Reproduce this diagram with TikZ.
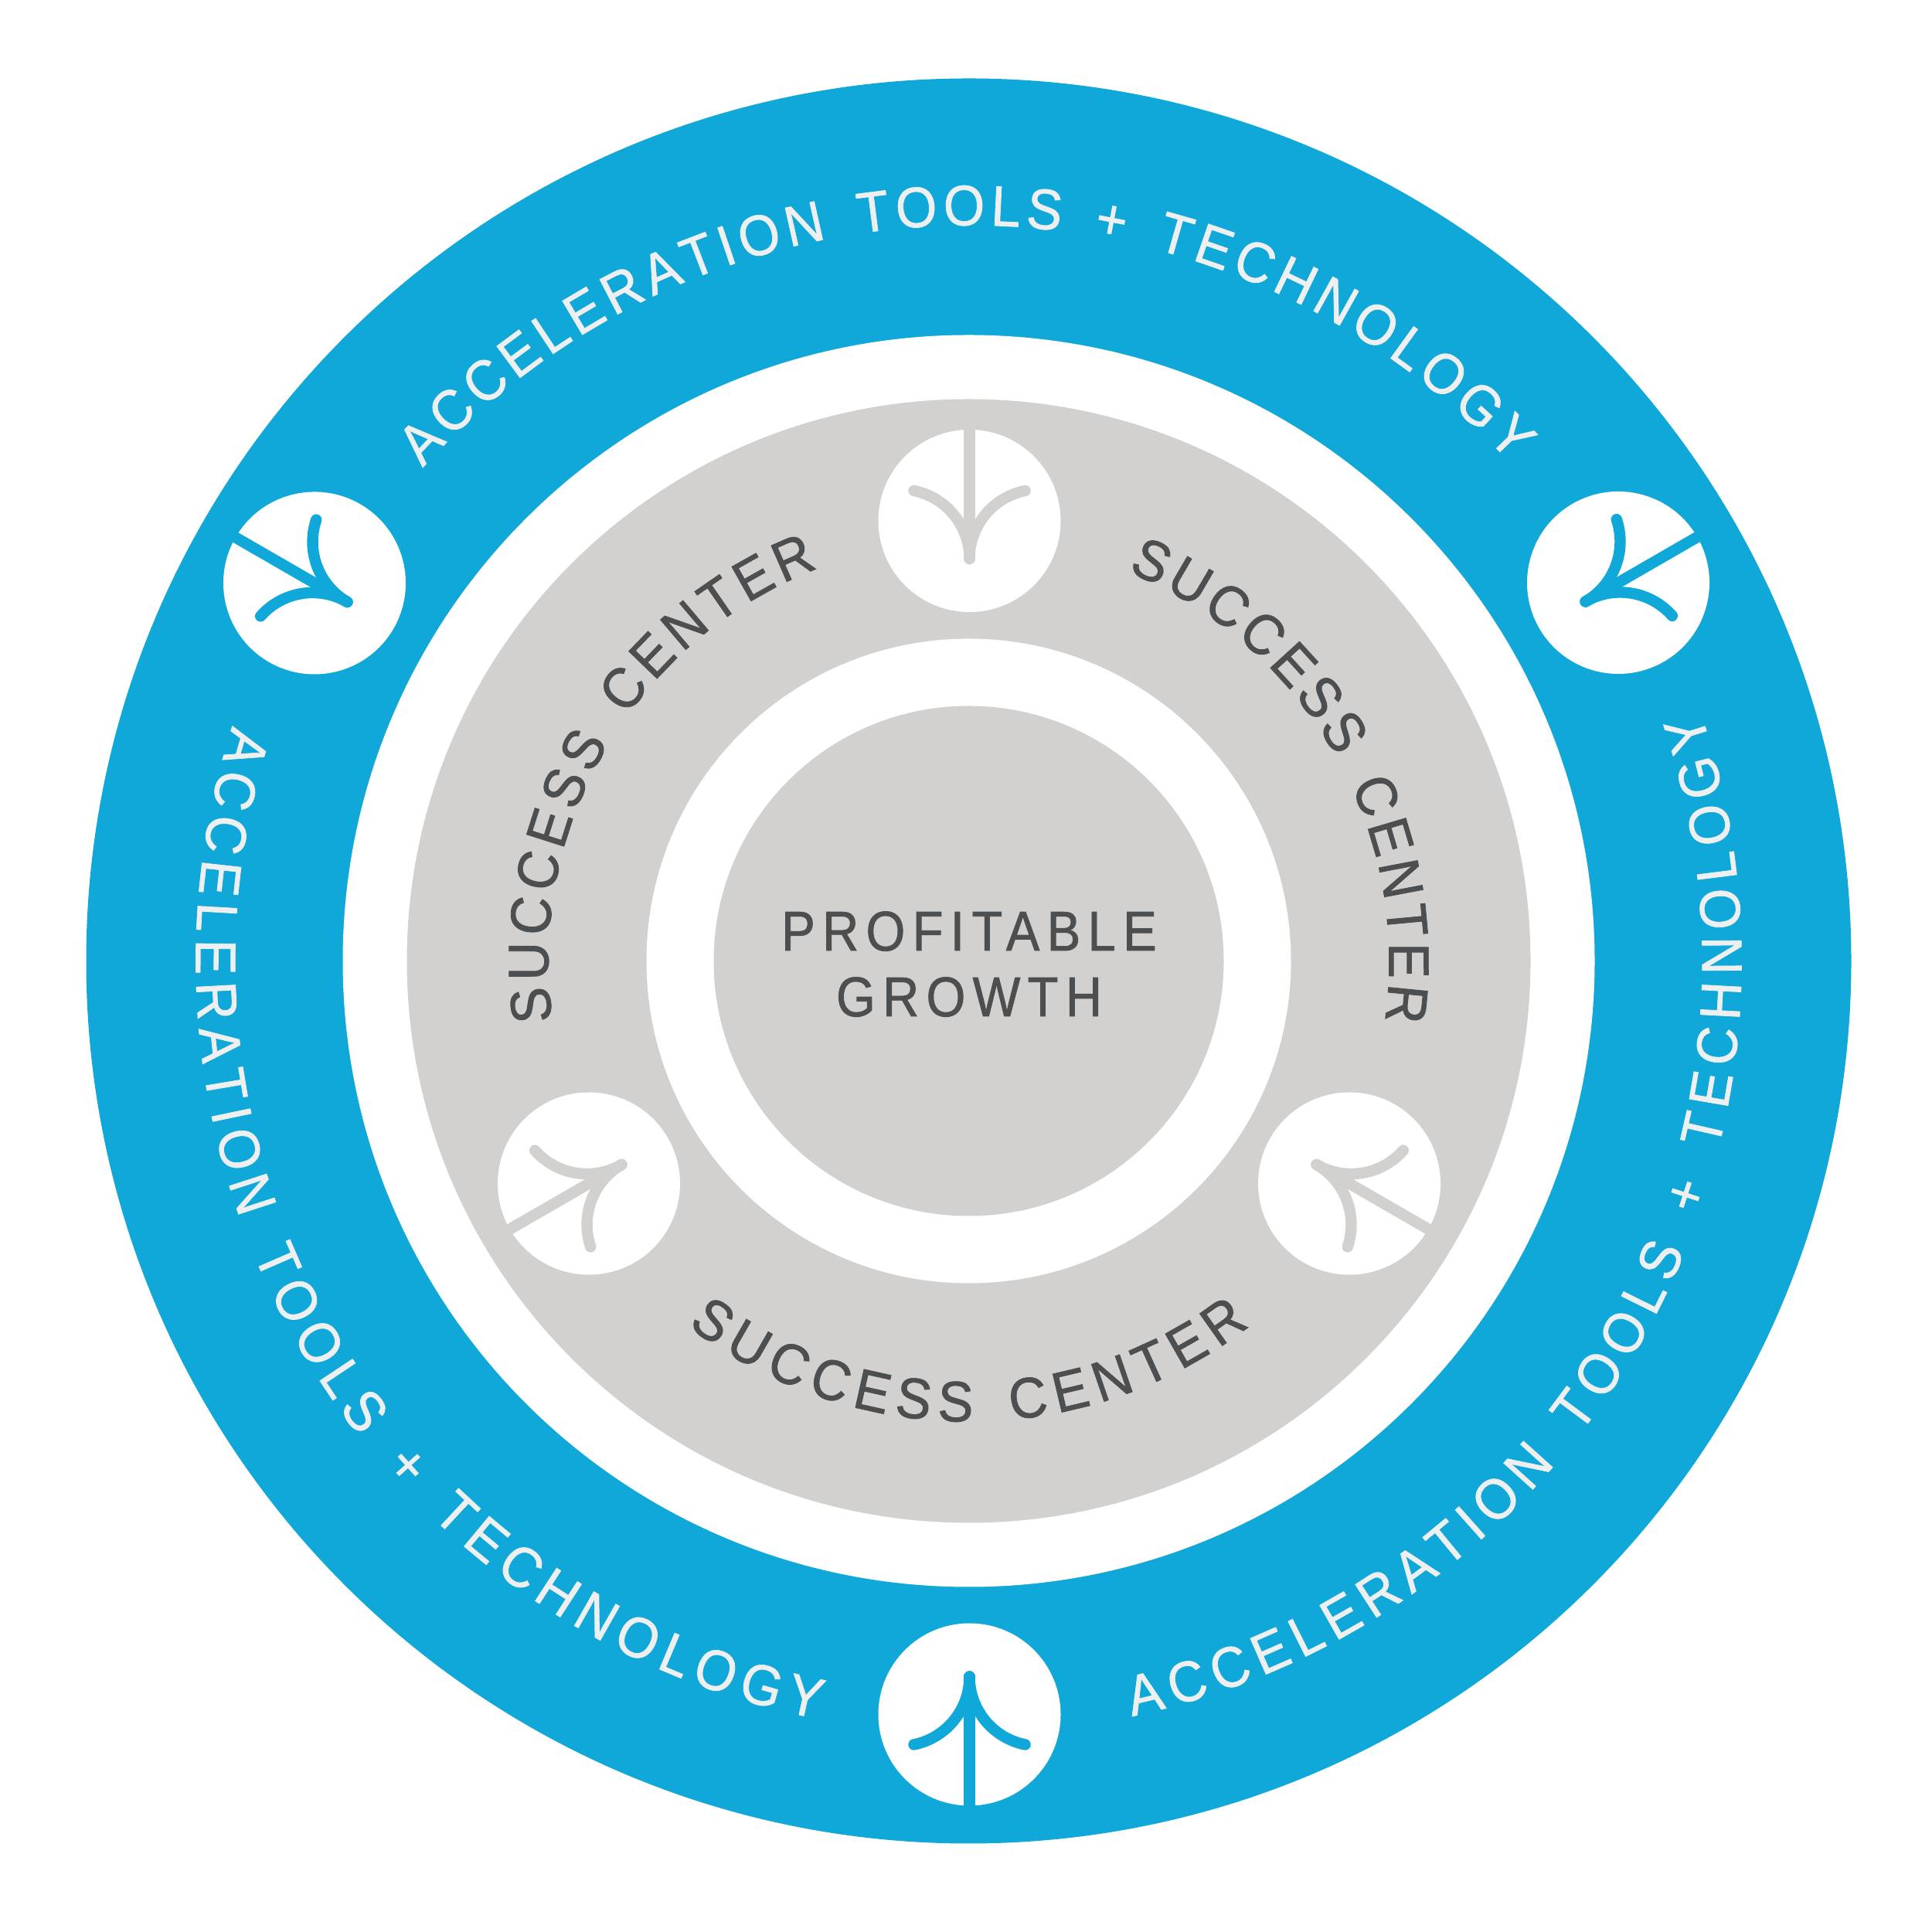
\documentclass[tikz,border=0pt]{standalone}
\usepackage{fontspec}
\usetikzlibrary{calc,decorations.text}
\newfontfamily\growthfont[FakeStretch=0.9,LetterSpace=13,FakeBold=1.2]{Liberation Sans}
\newfontfamily\ringfont[FakeStretch=0.93,WordSpace=1.5,FakeBold=1]{Liberation Sans}
\newfontfamily\centerfont[FakeStretch=0.93,WordSpace=1.5,FakeBold=1.2]{Liberation Sans}
\definecolor{ringblue}{HTML}{10A8D8}
\definecolor{ringgrey}{HTML}{D2D1CF}
\definecolor{darktext}{HTML}{4D4E50}
\definecolor{paletext}{HTML}{EEEFF0}
\tikzset{
	treestroke/.style={line width=0.144cm, line cap=round}
}
\def\curvetext[#1](#2:#3:#4)#5;{\path[decorate, decoration={text along path, text align={fit to path}, text={|#1|#5}}] ($(ctr)+({#4*cos(#2)},{#4*sin(#2)})$) arc (#2:#3:#4);}
\def\treemark(#1)(#2)(#3);{
	\begin{scope}[shift={(#1)}, rotate=#2]
		\fill[white] (0, 0) circle (1.18);
		\draw[treestroke, color=#3] (0, 1.2) -- (0, -0.49);
		\draw[treestroke, color=#3] (0, -0.49) arc (0:78.6:0.898);
		\draw[treestroke, color=#3] (0, -0.49) arc (180:101.4:0.898);
	\end{scope}
}
\def\bluetext{\ringfont\fontsize{21}{25}\selectfont\color{paletext}}
\def\greytext{\centerfont\fontsize{21}{25}\selectfont\color{darktext}}

\begin{document}
\begin{tikzpicture}
	%%%%% RINGS %%%%%
	\useasboundingbox (0, 0) rectangle (25, 25);
	\fill[white] (0, 0) rectangle (25, 25);
	\coordinate (ctr) at (12.535, 12.565);
	
	\fill[ringblue] (ctr) circle (11.42);
	\fill[white] (ctr) circle (8.10);
	\fill[ringgrey] (ctr) circle (7.27);
	\fill[white] (ctr) circle (4.17);
	\fill[ringgrey] (ctr) circle (3.30);
	
	%%%%% MARKS %%%%%
	\treemark(12.545, 18.26)(0)(ringgrey);
	\treemark(7.62, 9.685)(120)(ringgrey);
	\treemark(17.46, 9.685)(-120)(ringgrey);
	
	\treemark(12.545, 2.815)(180)(ringblue);
	\treemark(4.07, 17.455)(60)(ringblue);
	\treemark(20.94, 17.46)(-60)(ringblue);
	
	%%%%% TEXT %%%%%
	\curvetext[\bluetext](137.9:42.6:9.52){ACCELERATION TOOLS + TECHNOLOGY};
	\curvetext[\bluetext](-77.8:18.8:10.0){ACCELERATION TOOLS + TECHNOLOGY};
	\curvetext[\bluetext](162.3:258.8:10.0){ACCELERATION TOOLS + TECHNOLOGY};
	
	\curvetext[\greytext](188.2:111:5.44){SUCCESS CENTER};
	\curvetext[\greytext](67.8:-8.2:5.44){SUCCESS CENTER};
	\curvetext[\greytext](-127.6:-52.4:5.96){SUCCESS CENTER};
	
	\node[anchor=base, text=darktext, font=\growthfont\fontsize{20.6}{25}\selectfont] (profitable) at (12.54, 12.70) {PROFITABLE};
	\node[anchor=base, text=darktext, font=\growthfont\fontsize{20.6}{25}\selectfont] (growth) at (12.54, 11.85) {GROWTH};
\end{tikzpicture}
\end{document}
